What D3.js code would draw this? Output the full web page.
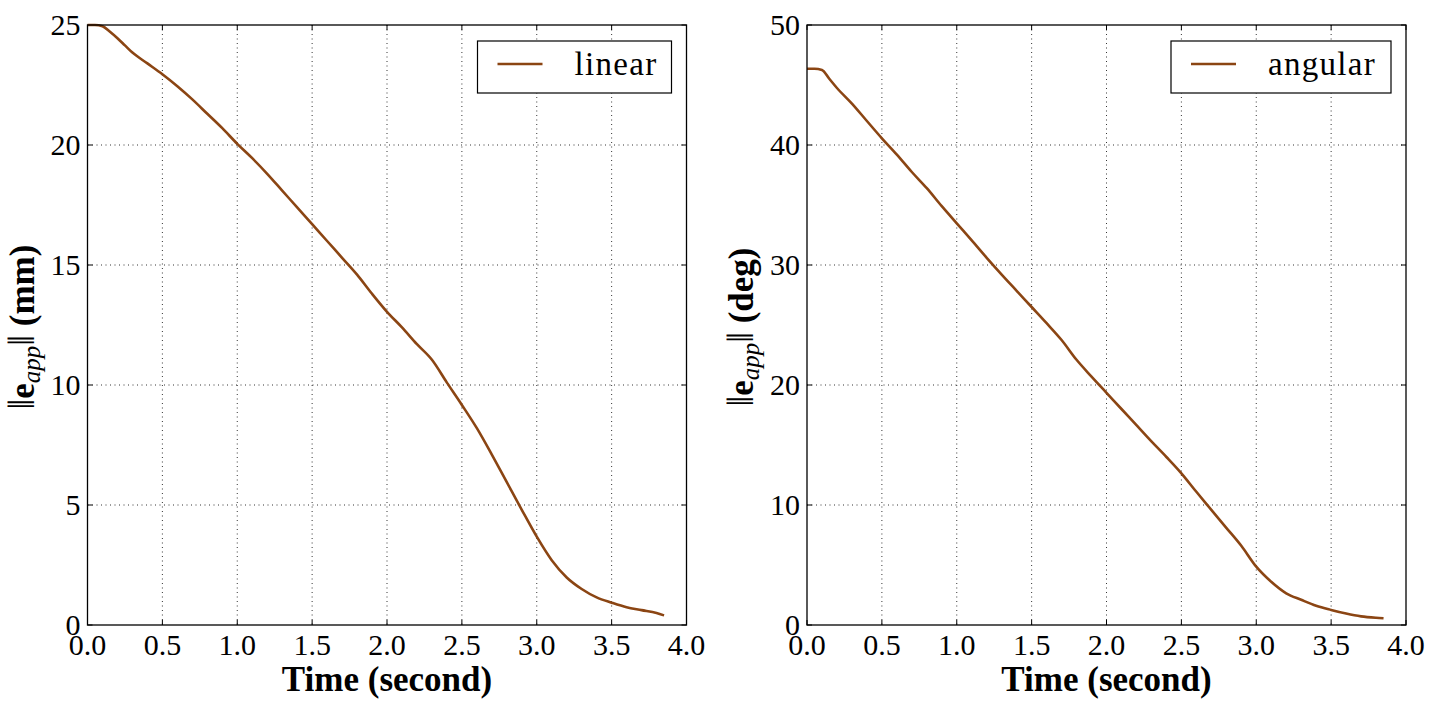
<!DOCTYPE html>
<html>
<head>
<meta charset="utf-8">
<script src="https://cdn.jsdelivr.net/npm/d3@7"></script>
<style>
  html, body { margin: 0; padding: 0; background: #fff; }
  svg { display: block; }
  text { font-family: "Liberation Serif", "Times New Roman", serif; fill: #000; }
</style>
</head>
<body>
<svg id="chart" width="1434" height="708"></svg>
<script>
// ---- data ----
const timeTicks = [0.0, 0.5, 1.0, 1.5, 2.0, 2.5, 3.0, 3.5, 4.0];
const linTicks = [0, 5, 10, 15, 20, 25];
const angTicks = [0, 10, 20, 30, 40, 50];

const tLinear = [0, 0.05, 0.1, 0.15, 0.2, 0.25, 0.3, 0.4, 0.5, 0.6, 0.7, 0.8, 0.9, 1.0, 1.1, 1.2, 1.3, 1.4, 1.5, 1.6, 1.7, 1.8, 1.9, 2.0, 2.1, 2.2, 2.3, 2.4, 2.5, 2.6, 2.7, 2.8, 2.9, 3.0, 3.1, 3.2, 3.3, 3.4, 3.5, 3.6, 3.7, 3.8, 3.85];
const vLinear = [25.0, 25.0, 24.95, 24.72, 24.45, 24.15, 23.85, 23.4, 22.95, 22.45, 21.9, 21.3, 20.7, 20.05, 19.45, 18.8, 18.1, 17.4, 16.7, 16.0, 15.3, 14.6, 13.8, 13.05, 12.4, 11.7, 11.05, 10.1, 9.17, 8.2, 7.1, 5.95, 4.8, 3.68, 2.7, 1.98, 1.5, 1.15, 0.93, 0.74, 0.62, 0.5, 0.4];

const tAngular = [0, 0.05, 0.1, 0.15, 0.2, 0.3, 0.4, 0.5, 0.6, 0.7, 0.8, 0.9, 1.0, 1.1, 1.2, 1.3, 1.4, 1.5, 1.6, 1.7, 1.8, 1.9, 2.0, 2.1, 2.2, 2.3, 2.4, 2.5, 2.6, 2.7, 2.8, 2.9, 3.0, 3.1, 3.2, 3.3, 3.4, 3.5, 3.6, 3.7, 3.8, 3.85];
const vAngular = [46.35, 46.35, 46.25, 45.5, 44.75, 43.45, 42.0, 40.56, 39.2, 37.75, 36.4, 34.9, 33.47, 32.05, 30.6, 29.2, 27.85, 26.5, 25.15, 23.75, 22.1, 20.7, 19.35, 18.0, 16.65, 15.3, 14.0, 12.64, 11.1, 9.6, 8.1, 6.6, 4.86, 3.6, 2.64, 2.1, 1.6, 1.25, 0.95, 0.72, 0.6, 0.56];

const panels = [
  { left: 87.5, t: tLinear, v: vLinear, yMax: 25, yTicks: linTicks, unit: "(mm)", legend: "linear", legendW: 194 },
  { left: 807, t: tAngular, v: vAngular, yMax: 50, yTicks: angTicks, unit: "(deg)", legendW: 220, legend: "angular" }
];

const lineColor = "#8B4513";
const svg = d3.select("#chart");
const W = 599, H = 600, plotTop = 25;

panels.forEach(p => {
  const x = d3.scaleLinear().domain([0, 4]).range([p.left, p.left + W]);
  const y = d3.scaleLinear().domain([0, p.yMax]).range([plotTop + H, plotTop]);
  const g = svg.append("g");

  // grid
  g.append("g").selectAll("line").data(timeTicks.slice(1, -1)).join("line")
    .attr("x1", d => x(d)).attr("x2", d => x(d)).attr("y1", plotTop).attr("y2", plotTop + H)
    .attr("stroke", "#000").attr("stroke-width", 0.8).attr("stroke-dasharray", "1,3.5");
  g.append("g").selectAll("line").data(p.yTicks.slice(1, -1)).join("line")
    .attr("y1", d => y(d)).attr("y2", d => y(d)).attr("x1", p.left).attr("x2", p.left + W)
    .attr("stroke", "#000").attr("stroke-width", 0.8).attr("stroke-dasharray", "1,3.5");

  // inward ticks on all sides
  const tk = 5;
  g.append("g").selectAll("line").data(timeTicks).join("line")
    .attr("x1", d => x(d)).attr("x2", d => x(d)).attr("y1", plotTop + H).attr("y2", plotTop + H - tk)
    .attr("stroke", "#000").attr("stroke-width", 1);
  g.append("g").selectAll("line").data(timeTicks).join("line")
    .attr("x1", d => x(d)).attr("x2", d => x(d)).attr("y1", plotTop).attr("y2", plotTop + tk)
    .attr("stroke", "#000").attr("stroke-width", 1);
  g.append("g").selectAll("line").data(p.yTicks).join("line")
    .attr("y1", d => y(d)).attr("y2", d => y(d)).attr("x1", p.left).attr("x2", p.left + tk)
    .attr("stroke", "#000").attr("stroke-width", 1);
  g.append("g").selectAll("line").data(p.yTicks).join("line")
    .attr("y1", d => y(d)).attr("y2", d => y(d)).attr("x1", p.left + W).attr("x2", p.left + W - tk)
    .attr("stroke", "#000").attr("stroke-width", 1);

  // line
  const data = p.t.map((t, i) => [t, p.v[i]]);
  g.append("path").datum(data)
    .attr("fill", "none").attr("stroke", lineColor).attr("stroke-width", 2.6)
    .attr("stroke-linejoin", "round").attr("stroke-linecap", "butt")
    .attr("d", d3.line().x(d => x(d[0])).y(d => y(d[1])).curve(d3.curveMonotoneX));

  // frame
  g.append("rect").attr("x", p.left).attr("y", plotTop).attr("width", W).attr("height", H)
    .attr("fill", "none").attr("stroke", "#000").attr("stroke-width", 1.3);

  // tick labels
  g.append("g").selectAll("text").data(timeTicks).join("text")
    .attr("x", d => x(d)).attr("y", plotTop + H + 30)
    .attr("text-anchor", "middle").attr("font-size", 30)
    .text(d => d.toFixed(1));
  g.append("g").selectAll("text").data(p.yTicks).join("text")
    .attr("x", p.left - 7).attr("y", d => y(d) + 10)
    .attr("text-anchor", "end").attr("font-size", 30)
    .text(d => d);

  // x label
  g.append("text").attr("x", p.left + W / 2).attr("y", 691)
    .attr("text-anchor", "middle").attr("font-size", 35).attr("font-weight", "bold")
    .text("Time (second)");

  // y label
  const yl = g.append("text")
    .attr("transform", `translate(${p.left - 54},327) rotate(-90)`)
    .attr("text-anchor", "middle").attr("font-size", 35).attr("font-weight", "bold");
  yl.append("tspan").attr("font-weight", "normal").attr("font-size", 38).text("\u2016");
  yl.append("tspan").text("e");
  yl.append("tspan").attr("font-style", "italic").attr("font-weight", "normal")
    .attr("font-size", 25).attr("dy", 6).text("app");
  yl.append("tspan").attr("font-weight", "normal").attr("font-size", 38).attr("dy", -6).text("\u2016");
  yl.append("tspan").text(" " + p.unit);

  // legend
  const lx = p.left + W - 15 - p.legendW, ly = 41;
  g.append("rect").attr("x", lx).attr("y", ly).attr("width", p.legendW).attr("height", 52)
    .attr("fill", "#fff").attr("stroke", "#000").attr("stroke-width", 1.2);
  g.append("line").attr("x1", lx + 20).attr("x2", lx + 65).attr("y1", ly + 23).attr("y2", ly + 23)
    .attr("stroke", lineColor).attr("stroke-width", 2.6);
  g.append("text").attr("x", lx + 97).attr("y", ly + 34).attr("font-size", 33)
    .attr("letter-spacing", 1.3).text(p.legend);
});
</script>
</body>
</html>
